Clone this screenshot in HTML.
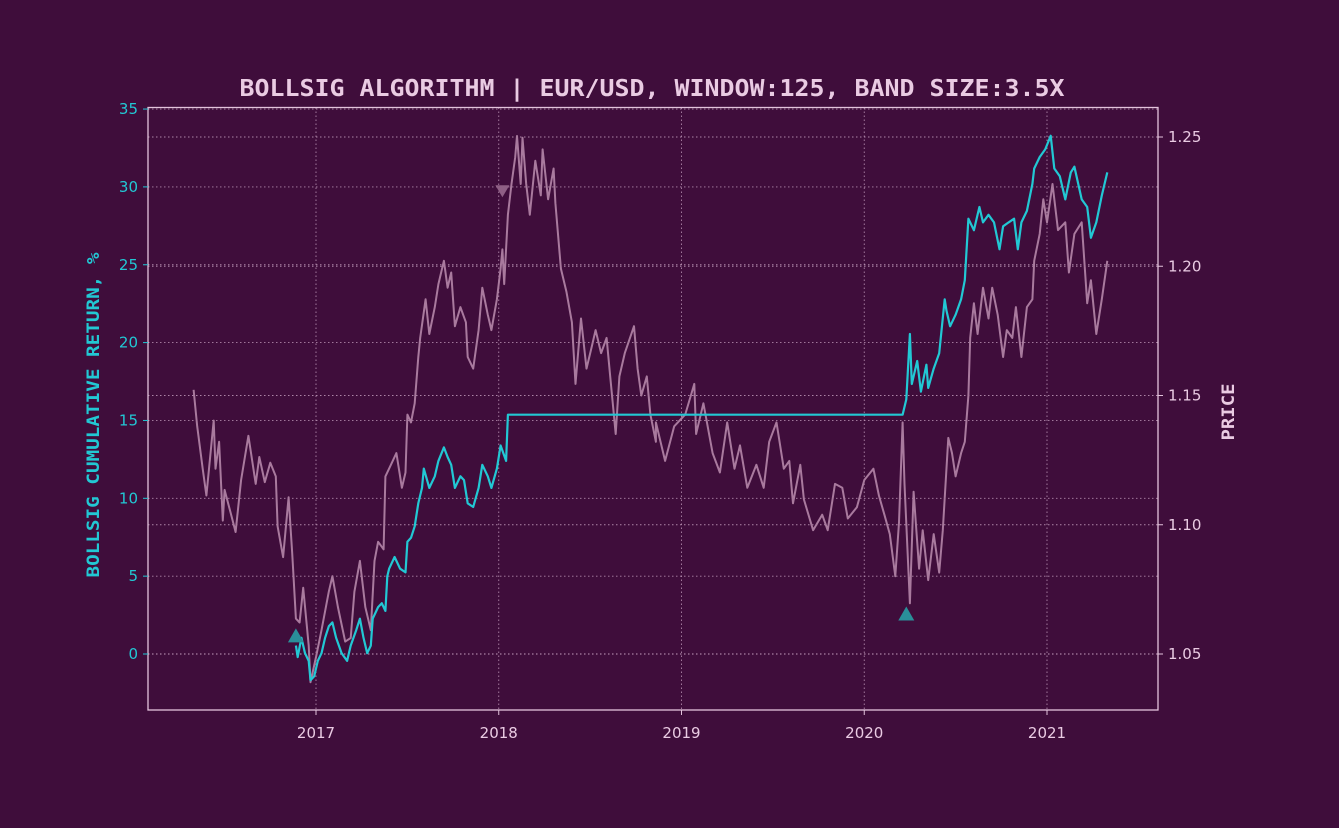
<!DOCTYPE html>
<html><head><meta charset="utf-8"><style>
html,body{margin:0;padding:0;background:#3f0d3b;}
svg{display:block;}
</style></head><body>
<svg id="chart" width="1339" height="828" xmlns="http://www.w3.org/2000/svg">
<rect x="0" y="0" width="1339" height="828" fill="#3f0d3b"/>
<text x="652" y="96" text-anchor="middle" textLength="825" lengthAdjust="spacingAndGlyphs" font-family="DejaVu Sans Mono, Liberation Mono, monospace" font-weight="bold" font-size="23" fill="#eacbe3">BOLLSIG ALGORITHM | EUR/USD, WINDOW:125, BAND SIZE:3.5X</text>
<g id="grid"></g>
<g id="series"></g>
<rect x="148" y="107.5" width="1010" height="602.5" fill="none" stroke="#e3c3dc" stroke-width="1.3"/>
<g id="axes"></g>
<text transform="translate(99,415) rotate(-90)" text-anchor="middle" textLength="325" lengthAdjust="spacingAndGlyphs" font-family="DejaVu Sans Mono, Liberation Mono, monospace" font-weight="bold" font-size="17" fill="#22c8d4">BOLLSIG CUMULATIVE RETURN, %</text>
<text transform="translate(1234,412) rotate(-90)" text-anchor="middle" textLength="57" lengthAdjust="spacingAndGlyphs" font-family="DejaVu Sans Mono, Liberation Mono, monospace" font-weight="bold" font-size="17" fill="#eacbe3">PRICE</text>
</svg>
<script>
const priceDates=[2016.33,2016.35,2016.38,2016.40,2016.44,2016.45,2016.47,2016.49,2016.50,2016.53,2016.56,2016.59,2016.63,2016.67,2016.69,2016.72,2016.75,2016.78,2016.79,2016.82,2016.85,2016.87,2016.89,2016.91,2016.93,2016.96,2016.97,2017.00,2017.03,2017.07,2017.09,2017.12,2017.16,2017.19,2017.21,2017.24,2017.27,2017.30,2017.32,2017.34,2017.37,2017.38,2017.41,2017.44,2017.47,2017.49,2017.50,2017.52,2017.54,2017.56,2017.57,2017.60,2017.62,2017.65,2017.67,2017.70,2017.72,2017.74,2017.76,2017.79,2017.82,2017.83,2017.86,2017.89,2017.91,2017.94,2017.96,2017.99,2018.01,2018.02,2018.03,2018.05,2018.07,2018.09,2018.10,2018.12,2018.13,2018.15,2018.17,2018.20,2018.23,2018.24,2018.27,2018.30,2018.31,2018.34,2018.37,2018.40,2018.42,2018.45,2018.48,2018.51,2018.53,2018.56,2018.59,2018.61,2018.64,2018.66,2018.69,2018.74,2018.76,2018.78,2018.81,2018.83,2018.86,
2018.86,2018.91,2018.96,2019.02,2019.07,2019.08,2019.12,2019.17,2019.21,2019.25,2019.29,2019.32,2019.36,2019.41,2019.45,2019.48,2019.52,2019.56,2019.59,2019.61,2019.65,2019.67,2019.72,2019.77,2019.80,2019.84,2019.88,2019.91,2019.96,2020.00,2020.05,2020.08,2020.11,2020.14,2020.17,2020.19,2020.21,2020.22,2020.25,2020.27,2020.30,2020.32,2020.35,2020.38,2020.41,2020.43,2020.46,2020.48,2020.50,2020.53,2020.55,2020.57,2020.58,2020.60,2020.62,2020.65,2020.68,2020.70,2020.73,2020.76,2020.78,2020.81,2020.83,2020.86,2020.89,2020.92,2020.93,2020.96,2020.98,2021.00,2021.03,2021.06,2021.10,2021.12,2021.15,2021.19,2021.22,2021.24,2021.27,2021.30,2021.33];
const priceValues=[1.1522,1.1381,1.1217,1.1113,1.1403,1.1217,1.1321,1.1016,1.1135,1.1054,1.0972,1.1173,1.1344,1.1158,1.1262,1.1165,1.1240,1.1187,1.0994,1.0875,1.1106,1.0890,1.0637,1.0622,1.0756,1.0533,1.0391,1.0488,1.0592,1.0741,1.0801,1.0682,1.0548,1.0562,1.0741,1.0860,1.0682,1.0592,1.0860,1.0934,1.0905,1.1187,1.1232,1.1277,1.1143,1.1202,1.1426,1.1396,1.1470,1.1649,1.1723,1.1872,1.1738,1.1842,1.1931,1.2021,1.1917,1.1976,1.1768,1.1842,1.1783,1.1649,1.1604,1.1753,1.1917,1.1812,1.1753,1.1872,1.1991,1.2065,1.1931,1.2199,1.2318,1.2422,1.2504,1.2318,1.2497,1.2318,1.2199,1.2408,1.2274,1.2452,1.2259,1.2378,1.2244,1.1991,1.1902,1.1783,1.1545,1.1798,1.1604,1.1693,1.1753,1.1664,1.1723,1.1574,1.1351,1.1574,1.1664,1.1768,1.1604,1.1500,1.1574,1.1426,1.1321,
1.1396,1.1247,1.1381,1.1426,1.1545,1.1351,1.1470,1.1277,1.1202,1.1396,1.1217,1.1307,1.1143,1.1232,1.1143,1.1321,1.1396,1.1217,1.1247,1.1083,1.1232,1.1098,1.0979,1.1039,1.0979,1.1158,1.1143,1.1024,1.1068,1.1173,1.1217,1.1113,1.1039,1.0964,1.0801,1.1009,1.1396,1.1158,1.0696,1.1128,1.0830,1.0979,1.0786,1.0964,1.0815,1.0979,1.1336,1.1277,1.1187,1.1277,1.1321,1.1500,1.1723,1.1857,1.1738,1.1917,1.1798,1.1917,1.1812,1.1649,1.1753,1.1723,1.1842,1.1649,1.1842,1.1872,1.2021,1.2125,1.2259,1.2170,1.2318,1.2140,1.2170,1.1976,1.2125,1.2170,1.1857,1.1946,1.1738,1.1872,1.2021,1.2132];
const returnDates=[2016.89,2016.90,2016.92,2016.94,2016.96,2016.97,2016.99,2017.01,2017.03,2017.05,2017.07,2017.09,2017.11,2017.14,2017.17,2017.19,2017.22,2017.24,2017.26,2017.28,2017.30,2017.31,2017.34,2017.36,2017.38,2017.39,2017.40,2017.43,2017.46,2017.49,2017.50,2017.52,2017.54,2017.56,2017.58,2017.59,2017.62,2017.65,2017.67,2017.70,2017.72,2017.74,2017.76,2017.79,2017.81,2017.83,2017.86,2017.89,2017.91,2017.94,2017.96,2017.99,2018.01,2018.04,2018.05,2020.21,2020.23,2020.25,2020.26,2020.29,2020.31,2020.34,2020.35,2020.38,2020.41,2020.44,2020.45,2020.47,2020.50,2020.53,2020.55,2020.57,2020.60,2020.63,2020.65,2020.68,2020.71,2020.74,2020.76,2020.79,2020.82,2020.84,2020.86,2020.89,2020.92,2020.93,2020.96,2020.99,2021.02,2021.04,2021.07,2021.10,2021.13,2021.15,2021.19,2021.22,2021.24,2021.27,2021.30,2021.33];
const returnValues=[0.54,-0.2,1.04,0.05,-0.44,-1.68,-1.43,-0.44,0.05,1.04,1.78,2.03,1.04,0.05,-0.44,0.54,1.53,2.27,1.04,0.05,0.54,2.27,3.01,3.26,2.77,4.99,5.48,6.23,5.48,5.24,7.21,7.46,8.20,9.68,10.67,11.91,10.67,11.41,12.40,13.27,12.65,12.15,10.67,11.41,11.17,9.68,9.44,10.67,12.15,11.41,10.67,11.91,13.39,12.40,15.37,15.37,16.35,20.55,17.34,18.82,16.85,18.58,17.09,18.33,19.32,22.78,22.04,21.05,21.79,22.78,24.01,27.96,27.22,28.71,27.72,28.21,27.72,25.99,27.47,27.72,27.96,25.99,27.72,28.46,30.19,31.18,31.92,32.41,33.28,31.18,30.68,29.20,30.93,31.30,29.20,28.71,26.73,27.72,29.45,30.93];
const buyDates=[2016.89,2020.23];
const buyValues=[1.2,2.6];
const sellDates=[2018.02];
const sellPrices=[1.229];
const leftTicks=[0,5,10,15,20,25,30,35];
const rightTicks=[1.05,1.10,1.15,1.20,1.25];
const rightTickLabels=["1.05","1.10","1.15","1.20","1.25"];
const yearTicks=[2017,2018,2019,2020,2021];

const NS="http://www.w3.org/2000/svg";
const X0=148,X1=1158,Y0=107.5,Y1=710;
function xs(t){return 316+(t-2017)*182.75;}
function yl(v){return 654-v*15.57;}
function yr(p){return 654-(p-1.05)/0.05*129.25;}
function mk(tag,attrs,parent){const e=document.createElementNS(NS,tag);for(const k in attrs)e.setAttribute(k,attrs[k]);parent.appendChild(e);return e;}
const grid=document.getElementById('grid'),axes=document.getElementById('axes'),series=document.getElementById('series');
const gstyle={stroke:"#c9a3c2","stroke-width":"0.9","stroke-dasharray":"1.5,2.5",opacity:"0.8"};
yearTicks.forEach(t=>{
  const g=mk('line',Object.assign({x1:xs(t),x2:xs(t),y1:Y0,y2:Y1},gstyle),grid);
  
  
  const tk=mk('line',{x1:xs(t),x2:xs(t),y1:Y1,y2:Y1+5,stroke:"#e3c3dc","stroke-width":"1"},axes);
  
  
  const tx=mk('text',{x:xs(t),y:738,"text-anchor":"middle","font-family":"DejaVu Sans, Liberation Sans, sans-serif","font-size":"15",fill:"#eacbe3"},axes);
  tx.textContent=t;
  
  
});
leftTicks.forEach(v=>{
  const y=yl(v);
  const g=mk('line',Object.assign({x1:X0,x2:X1,y1:y,y2:y},gstyle),grid);
  
  
  const tk=mk('line',{x1:X0-5,x2:X0,y1:y,y2:y,stroke:"#22c8d4","stroke-width":"1"},axes);
  
  
  const tx=mk('text',{x:X0-10,y:y+5,"text-anchor":"end","font-family":"DejaVu Sans, Liberation Sans, sans-serif","font-size":"15",fill:"#22c8d4"},axes);
  tx.textContent=v;
  
  
});
rightTicks.forEach((p,i)=>{
  const y=yr(p);
  const g=mk('line',Object.assign({x1:X0,x2:X1,y1:y,y2:y},gstyle),grid);
  
  
  const tk=mk('line',{x1:X1,x2:X1+5,y1:y,y2:y,stroke:"#e3c3dc","stroke-width":"1"},axes);
  
  
  const tx=mk('text',{x:X1+10,y:y+5,"text-anchor":"start","font-family":"DejaVu Sans, Liberation Sans, sans-serif","font-size":"15",fill:"#eacbe3"},axes);
  tx.textContent=rightTickLabels[i];
  
  
});
let d='';priceDates.forEach((t,i)=>{d+=(i?'L':'M')+xs(t).toFixed(1)+','+yr(priceValues[i]).toFixed(1);});
const pl=mk('path',{d:d,fill:"none",stroke:"#a97a9e","stroke-width":"2","stroke-linejoin":"round"},series);


d='';returnDates.forEach((t,i)=>{d+=(i?'L':'M')+xs(t).toFixed(1)+','+yl(returnValues[i]).toFixed(1);});
const rl=mk('path',{d:d,fill:"none",stroke:"#22c8d4","stroke-width":"2.2","stroke-linejoin":"round"},series);


buyDates.forEach((t,i)=>{
  const x=xs(t),y=yl(buyValues[i]);
  const tr=mk('polygon',{points:`${x-8},${y+7} ${x+8},${y+7} ${x},${y-7}`,fill:"#2a8f99"},series);
  
  
});
sellDates.forEach((t,i)=>{
  const x=xs(t),y=yr(sellPrices[i]);
  const tr=mk('polygon',{points:`${x-7},${y-6} ${x+7},${y-6} ${x},${y+6}`,fill:"#8f5f85"},series);
  
  
});
</script>
</body></html>
